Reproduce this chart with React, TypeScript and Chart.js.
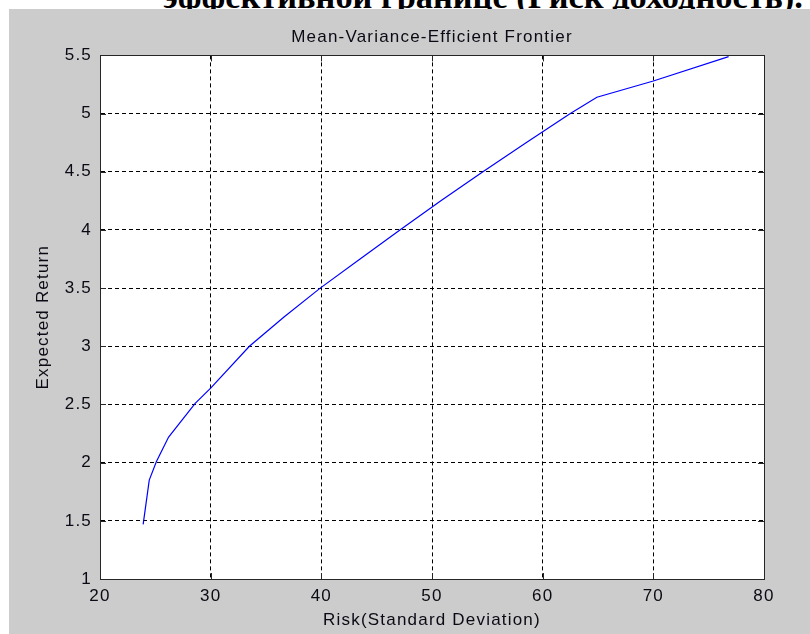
import React, { useEffect, useRef } from "react";
import { Chart, registerables } from "chart.js";

Chart.register(...registerables);

const chartTitle = "Mean-Variance-Efficient Frontier";
const xAxisTitle = "Risk(Standard Deviation)";
const yAxisTitle = "Expected Return";
const headingText = "эффективной границе (Риск доходность).";

const riskValues = [23.9, 24.45, 25.1, 26.2, 28.6, 30.0, 33.5, 36.6, 39.9, 43.5, 47.1, 50.8, 54.6, 58.5, 62.5, 64.9, 70.0, 76.8];
const returnValues = [1.47, 1.85, 2.01, 2.22, 2.51, 2.64, 3.0, 3.25, 3.5, 3.75, 4.0, 4.25, 4.5, 4.75, 5.0, 5.14, 5.28, 5.49];

const xMin = 20, xMax = 80, xStep = 10;
const yMin = 1, yMax = 5.5, yStep = 0.5;

const FONT = "'Liberation Sans', Arial, sans-serif";
const SPACING = "1.2px";
const TEXT = "#0a0a14";

const spacingPlugin = {
  id: "spacing",
  beforeUpdate(chart: any) { chart.ctx.letterSpacing = SPACING; },
  beforeLayout(chart: any) { chart.ctx.letterSpacing = SPACING; },
  beforeDraw(chart: any) { chart.ctx.letterSpacing = SPACING; },
};

const boxPlugin = {
  id: "box",
  beforeDraw(chart: any) {
    const { ctx, chartArea: a } = chart;
    ctx.save();
    ctx.fillStyle = "#ffffff";
    ctx.fillRect(a.left, a.top, a.right - a.left, a.bottom - a.top);
    ctx.restore();
  },
  afterDatasetsDraw(chart: any) {
    const { ctx, chartArea: a, scales } = chart;
    ctx.save();
    ctx.strokeStyle = "#262626";
    ctx.lineWidth = 1;
    ctx.setLineDash([]);
    const tl = 6;
    ctx.beginPath();
    scales.x.ticks.forEach((t: any) => {
      const px = Math.round(scales.x.getPixelForValue(t.value)) + 0.5;
      ctx.moveTo(px, a.bottom); ctx.lineTo(px, a.bottom - tl);
      ctx.moveTo(px, a.top); ctx.lineTo(px, a.top + tl);
    });
    scales.y.ticks.forEach((t: any) => {
      const py = Math.round(scales.y.getPixelForValue(t.value)) + 0.5;
      ctx.moveTo(a.left, py); ctx.lineTo(a.left + tl, py);
      ctx.moveTo(a.right, py); ctx.lineTo(a.right - tl, py);
    });
    ctx.stroke();
    ctx.strokeRect(Math.round(a.left) + 0.5, Math.round(a.top) + 0.5, Math.round(a.right - a.left), Math.round(a.bottom - a.top));
    ctx.restore();
  },
};

const fmt = (v: any) => String(Number(Number(v).toFixed(2)));

export default function App() {
  const ref = useRef<HTMLCanvasElement | null>(null);
  useEffect(() => {
    if (!ref.current) return;
    const chart = new Chart(ref.current, {
      type: "line",
      data: {
        datasets: [
          {
            data: riskValues.map((x, i) => ({ x, y: returnValues[i] })),
            borderColor: "#0000ff",
            borderWidth: 1.2,
            pointRadius: 0,
            tension: 0,
            fill: false,
          },
        ],
      },
      options: {
        animation: false,
        responsive: true,
        maintainAspectRatio: false,
        layout: { padding: { top: 0, right: 46, left: 0, bottom: 0 } },
        plugins: {
          legend: { display: false },
          tooltip: { enabled: false },
          title: {
            display: true,
            fullSize: false,
            text: chartTitle,
            color: TEXT,
            font: { family: FONT, size: 17, weight: "normal" },
            padding: { top: 18, bottom: 8 },
          },
        },
        scales: {
          x: {
            type: "linear",
            min: xMin,
            max: xMax,
            afterFit(s: any) { s.height = 55; },
            ticks: { stepSize: xStep, color: TEXT, padding: 7, maxRotation: 0, callback: fmt, font: { family: FONT, size: 17 } },
            grid: { color: "#000", drawTicks: false },
            border: { display: true, color: "#262626", dash: [4, 3] } as any,
            title: { display: true, text: xAxisTitle, color: TEXT, font: { family: FONT, size: 17 }, padding: { top: 0, bottom: 3 } },
          },
          y: {
            type: "linear",
            min: yMin,
            max: yMax,
            afterFit(s: any) { s.width = 91; },
            ticks: { stepSize: yStep, color: TEXT, padding: 8, callback: fmt, font: { family: FONT, size: 17 } },
            grid: { color: "#000", drawTicks: false },
            border: { display: true, color: "#262626", dash: [4, 3] } as any,
            title: { display: true, text: yAxisTitle, color: TEXT, font: { family: FONT, size: 17 }, padding: { top: 24, bottom: 0 } },
          },
        },
      } as any,
      plugins: [spacingPlugin, boxPlugin],
    });
    return () => chart.destroy();
  }, []);

  return (
    <div>
      <div
        style={{
          position: "absolute",
          left: 0,
          top: 0,
          width: 810,
          height: 9,
          overflow: "hidden",
          background: "#fff",
        }}
      >
        <div
          style={{
            position: "absolute",
            left: 163,
            top: -21,
            whiteSpace: "nowrap",
            fontFamily: "'Liberation Serif', 'Times New Roman', serif",
            fontWeight: "bold",
            fontSize: 34.4,
            lineHeight: "34px",
            color: "#000",
          }}
        >
          {headingText}
        </div>
      </div>
      <div
        style={{
          position: "absolute",
          left: 9,
          top: 9,
          width: 801,
          height: 625,
          background: "#cccccc",
        }}
      >
        <canvas ref={ref} />
      </div>
    </div>
  );
}
